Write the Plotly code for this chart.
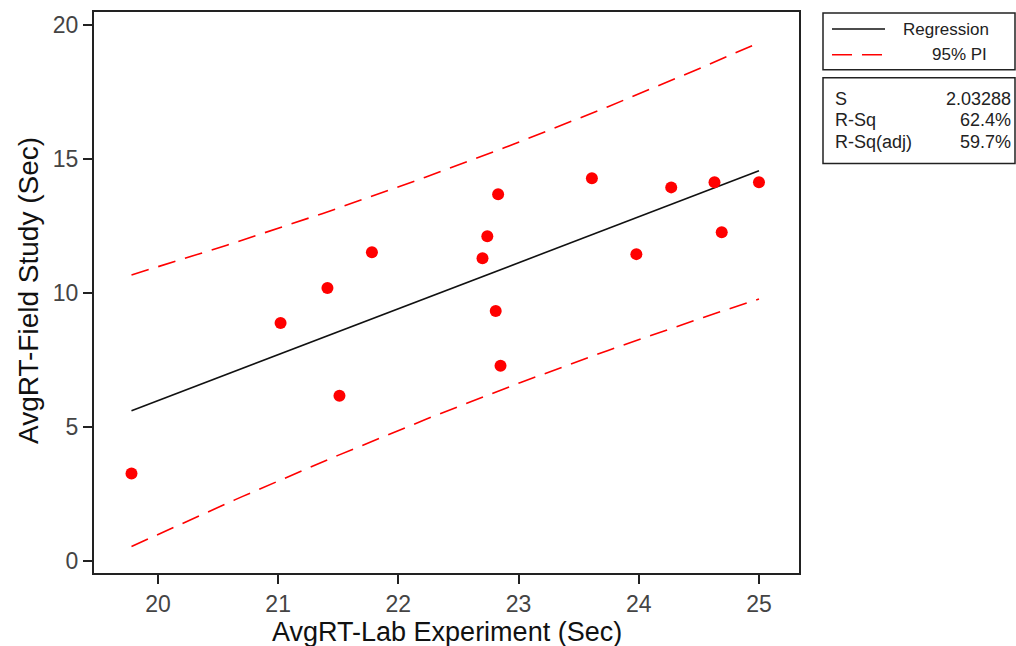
import numpy as np
import plotly.graph_objects as go

# Average reaction times (seconds): lab experiment vs. field study
lab_rt = [19.78, 21.02, 21.41, 21.51, 21.78, 22.70, 22.74, 22.81, 22.83, 22.85,
          23.61, 23.98, 24.27, 24.63, 24.69, 25.00]
field_rt = [3.27, 8.88, 10.19, 6.17, 11.52, 11.30, 12.12, 9.33, 13.68, 7.29,
            14.28, 11.45, 13.94, 14.13, 12.27, 14.13]

x_ticks = [20, 21, 22, 23, 24, 25]
y_ticks = [0, 5, 10, 15, 20]

stat_names = ["S", "R-Sq", "R-Sq(adj)"]
stat_values = ["2.03288", "62.4%", "59.7%"]
S_VALUE = 2.03288
T_CRIT = 2.1448  # t(0.975, df = n - 2 = 14)

# ---- least-squares fit and 95% prediction interval ----
x = np.asarray(lab_rt)
y = np.asarray(field_rt)
n = len(x)
slope, intercept = np.polyfit(x, y, 1)
xbar = x.mean()
sxx = ((x - xbar) ** 2).sum()
xs = np.linspace(x.min(), x.max(), 80)
fit = intercept + slope * xs
half = T_CRIT * S_VALUE * np.sqrt(1 + 1 / n + (xs - xbar) ** 2 / sxx)

# ---- page geometry (pixels) ----
W, H = 1016, 646
L, R, T, B = 94, 799, 10, 573


def px(xp):
    return (xp - L) / (R - L)


def py(yp):
    return (B - yp) / (B - T)


RED = "#ff0000"
FONT = "Liberation Sans"

fig = go.Figure()
fig.add_trace(go.Scatter(x=xs, y=fit, mode="lines",
                         line=dict(color="#111111", width=1.6), hoverinfo="skip"))
fig.add_trace(go.Scatter(x=xs, y=fit + half, mode="lines",
                         line=dict(color=RED, width=1.6, dash="18px,10px"), hoverinfo="skip"))
fig.add_trace(go.Scatter(x=xs, y=fit - half, mode="lines",
                         line=dict(color=RED, width=1.6, dash="18px,10px"), hoverinfo="skip"))
fig.add_trace(go.Scatter(x=lab_rt, y=field_rt, mode="markers",
                         marker=dict(color=RED, size=12, line=dict(width=0))))

axis_common = dict(
    showgrid=False, zeroline=False, showline=True, mirror=True,
    linecolor="#222222", linewidth=2,
    ticks="outside", ticklen=9, tickwidth=1.5, tickcolor="#222222",
    tickfont=dict(family=FONT, size=23, color="#444444"),
)

fig.update_layout(
    width=W, height=H,
    margin=dict(l=L, r=W - R, t=T, b=H - B),
    paper_bgcolor="white", plot_bgcolor="white",
    showlegend=False,
    xaxis=dict(range=[19.468, 25.333], tickvals=x_ticks, **axis_common),
    yaxis=dict(range=[-0.446, 20.483], tickvals=y_ticks, **axis_common),
)

annotations = [
    dict(text="AvgRT-Lab Experiment (Sec)", x=px(447), y=py(632),
         xanchor="center", yanchor="middle",
         font=dict(family=FONT, size=27, color="#111111")),
    dict(text="AvgRT-Field Study (Sec)", x=px(28), y=py(290), textangle=-90,
         xanchor="center", yanchor="middle",
         font=dict(family=FONT, size=28, color="#111111")),
    dict(text="Regression", x=px(991), y=py(28), xanchor="right", yanchor="middle",
         font=dict(family=FONT, size=17, color="#222222")),
    dict(text="95% PI", x=px(989), y=py(53), xanchor="right", yanchor="middle",
         font=dict(family=FONT, size=17, color="#222222")),
]
for i, (name, val) in enumerate(zip(stat_names, stat_values)):
    yy = 97 + 21.5 * i
    annotations.append(dict(text=name, x=px(833), y=py(yy), xanchor="left", yanchor="middle",
                            font=dict(family=FONT, size=18, color="#222222")))
    annotations.append(dict(text=val, x=px(1013), y=py(yy), xanchor="right", yanchor="middle",
                            font=dict(family=FONT, size=18, color="#222222")))
for a in annotations:
    a.update(xref="paper", yref="paper", showarrow=False)
fig.update_layout(annotations=annotations)

shapes = [
    # legend box and statistics box
    dict(type="rect", x0=px(823), x1=px(1015), y0=py(11), y1=py(68),
         line=dict(color="#222222", width=1.5)),
    dict(type="rect", x0=px(823), x1=px(1015), y0=py(76), y1=py(162),
         line=dict(color="#222222", width=1.5)),
    # legend keys
    dict(type="line", x0=px(832), x1=px(885), y0=py(27), y1=py(27),
         line=dict(color="#111111", width=1.5)),
    dict(type="line", x0=px(832), x1=px(882), y0=py(53), y1=py(53),
         line=dict(color=RED, width=1.5, dash="20px,10px")),
]
for s in shapes:
    s.update(xref="paper", yref="paper")
fig.update_layout(shapes=shapes)

fig.write_html("out.html")
